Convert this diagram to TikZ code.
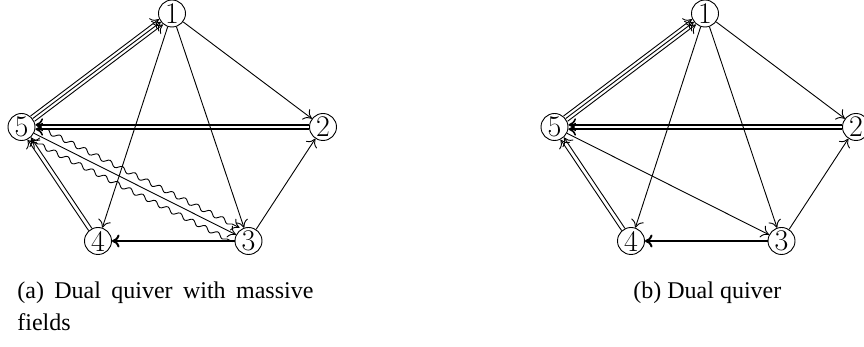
\documentclass[tikz,border=0pt]{standalone}
\usepackage{fontspec}
\newfontfamily\capfont{Liberation Serif}
\usetikzlibrary{arrows.meta,decorations.pathmorphing}

\tikzset{
  vert/.style={circle, draw, line width=0.45pt, inner sep=0pt, minimum size=13.5pt,
    font=\fontsize{15}{15}\selectfont},
  arr/.style={-{To[length=3.8pt,width=6.5pt]}, line width=0.45pt},
  heavy/.style={arr, line width=1pt},
  wavy/.style={arr, decorate,
    decoration={snake, amplitude=1.1pt, segment length=7pt, pre length=3pt, post length=4pt}},
  shiftby/.style={transform canvas={shift={#1}}},
  caption/.style={anchor=north west, inner sep=0pt, align=justify,
    font=\capfont\fontsize{12}{16}\selectfont}
}

\begin{document}
\begin{tikzpicture}[x=0.5pt, y=-0.5pt]
\useasboundingbox (0,0) rectangle (864,347);

% (a) dual quiver, massive fields drawn wavy
\node[vert] (a1) at (172,13.5) {1};
\node[vert] (a2) at (323,127) {2};
\node[vert] (a3) at (248.5,241) {3};
\node[vert] (a4) at (98,241) {4};
\node[vert] (a5) at (21.5,127) {5};

\draw[arr] (a1) -- (a2);
\draw[arr] (a1) -- (a3);
\draw[arr] (a1) -- (a4);
\draw[arr] (a3) -- (a2);
\draw[heavy] (a3) -- (a4);
\draw[arr, line width=0.8pt, shiftby={(0,-2.2)}] (a2) -- (a5);
\draw[arr, line width=0.8pt, shiftby={(0,2.2)}] (a2) -- (a5);
\draw[arr, shiftby={(1.65,-1.13)}] (a4) -- (a5);
\draw[arr, shiftby={(-1.65,1.13)}] (a4) -- (a5);
\draw[arr, shiftby={(2,2.65)}] (a5) -- (a1);
\draw[arr] (a5) -- (a1);
\draw[arr, shiftby={(-2,-2.65)}] (a5) -- (a1);
\draw[arr] (a5) -- (a3);
\draw[wavy, shiftby={(3.5,-7)}] (a5) -- (a3);
\draw[wavy, shiftby={(-3.5,7)}] (a3) -- (a5);

\node[caption, text width=148pt] (capa) at (17,281)
  {(a) Dual quiver with massive fields};

% (b) dual quiver
\node[vert] (b1) at (705,13.5) {1};
\node[vert] (b2) at (856,127) {2};
\node[vert] (b3) at (781.5,241) {3};
\node[vert] (b4) at (631,241) {4};
\node[vert] (b5) at (554.5,127) {5};

\draw[arr] (b1) -- (b2);
\draw[arr] (b1) -- (b3);
\draw[arr] (b1) -- (b4);
\draw[arr] (b3) -- (b2);
\draw[heavy] (b3) -- (b4);
\draw[arr, line width=0.8pt, shiftby={(0,-2.2)}] (b2) -- (b5);
\draw[arr, line width=0.8pt, shiftby={(0,2.2)}] (b2) -- (b5);
\draw[arr, shiftby={(1.65,-1.13)}] (b4) -- (b5);
\draw[arr, shiftby={(-1.65,1.13)}] (b4) -- (b5);
\draw[arr, shiftby={(2,2.65)}] (b5) -- (b1);
\draw[arr] (b5) -- (b1);
\draw[arr, shiftby={(-2,-2.65)}] (b5) -- (b1);
\draw[arr] (b5) -- (b3);

\node[caption] (capb) at (633,281) {(b) Dual quiver};

\end{tikzpicture}
\end{document}
